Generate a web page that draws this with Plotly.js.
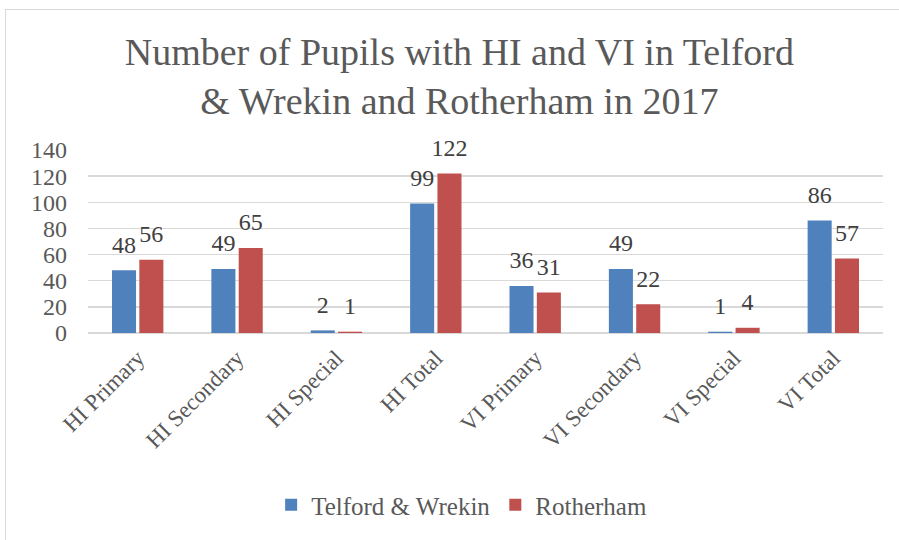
<!DOCTYPE html>
<html>
<head>
<meta charset="utf-8">
<script src="https://cdn.plot.ly/plotly-3.0.1.min.js"></script>
<style>
  html, body { margin: 0; padding: 0; background: #fff; }
  #wrap { position: relative; width: 899px; height: 540px; overflow: hidden; }
  #frame { position: absolute; left: 5px; top: 9px; width: 900px; height: 540px; border: 1px solid #d9d9d9; box-sizing: border-box; pointer-events: none; }
  #chart { position: absolute; left: 0; top: 0; width: 899px; height: 540px; }
</style>
</head>
<body>
<div id="wrap">
  <div id="chart"></div>
  <div id="frame"></div>
</div>
<script>
const categories = ["HI Primary", "HI Secondary", "HI Special", "HI Total", "VI Primary", "VI Secondary", "VI Special", "VI Total"];
const telford = [48, 49, 2, 99, 36, 49, 1, 86];
const rotherham = [56, 65, 1, 122, 31, 22, 4, 57];
const yTicks = [0, 20, 40, 60, 80, 100, 120, 140];

const serif = '"Liberation Serif", "DejaVu Serif", serif';
const labelFont = { family: serif, size: 24, color: '#404040' };

function barTrace(name, values, color) {
  return {
    type: 'bar', name: name, x: categories, y: values,
    marker: { color: color }, hoverinfo: 'skip'
  };
}
function labelTrace(name, values) {
  return {
    type: 'scatter', mode: 'markers+text', name: name + ' labels', x: categories, y: values,
    text: values.map(String), textposition: 'top center', textfont: labelFont,
    marker: { size: 17, opacity: 0 }, cliponaxis: false, showlegend: false, hoverinfo: 'skip'
  };
}

const traces = [
  barTrace('Telford & Wrekin', telford, '#4F81BD'),
  barTrace('Rotherham', rotherham, '#C0504D'),
  labelTrace('Telford & Wrekin', telford),
  labelTrace('Rotherham', rotherham)
];

const layout = {
  width: 899, height: 540,
  margin: { l: 88, r: 16, t: 150, b: 203 },
  paper_bgcolor: 'rgba(0,0,0,0)', plot_bgcolor: 'rgba(0,0,0,0)',
  font: { family: serif, color: '#595959' },
  title: {
    text: 'Number of Pupils with HI and VI in Telford<br>& Wrekin and Rotherham in 2017',
    font: { family: serif, size: 38, color: '#595959' },
    x: 0.511, xanchor: 'center', xref: 'container',
    y: 0.88, yanchor: 'middle', yref: 'container'
  },
  barmode: 'group', bargap: 0.45, bargroupgap: 0.12,
  scattermode: 'group', scattergap: 0.45,
  xaxis: {
    type: 'category', tickangle: -45, showgrid: false, zeroline: false,
    showline: false, ticks: '', ticklabelstandoff: 6,
    tickfont: { family: serif, size: 23, color: '#595959' }
  },
  yaxis: {
    range: [0, 140], tickvals: yTicks, ticktext: yTicks.map(String),
    showgrid: true, gridcolor: '#d9d9d9', gridwidth: 1.5,
    zeroline: true, zerolinecolor: '#d9d9d9', zerolinewidth: 1.5,
    showline: false, ticks: '', ticklabelstandoff: 20,
    tickfont: { family: serif, size: 24, color: '#595959' }
  },
  showlegend: true,
  legend: {
    orientation: 'h', x: 0.47, xanchor: 'center', y: -0.94, yanchor: 'middle',
    font: { family: serif, size: 25, color: '#595959' }, itemwidth: 30, traceorder: 'normal'
  }
};

Plotly.newPlot('chart', traces, layout, { displayModeBar: false, staticPlot: true });
</script>
</body>
</html>
